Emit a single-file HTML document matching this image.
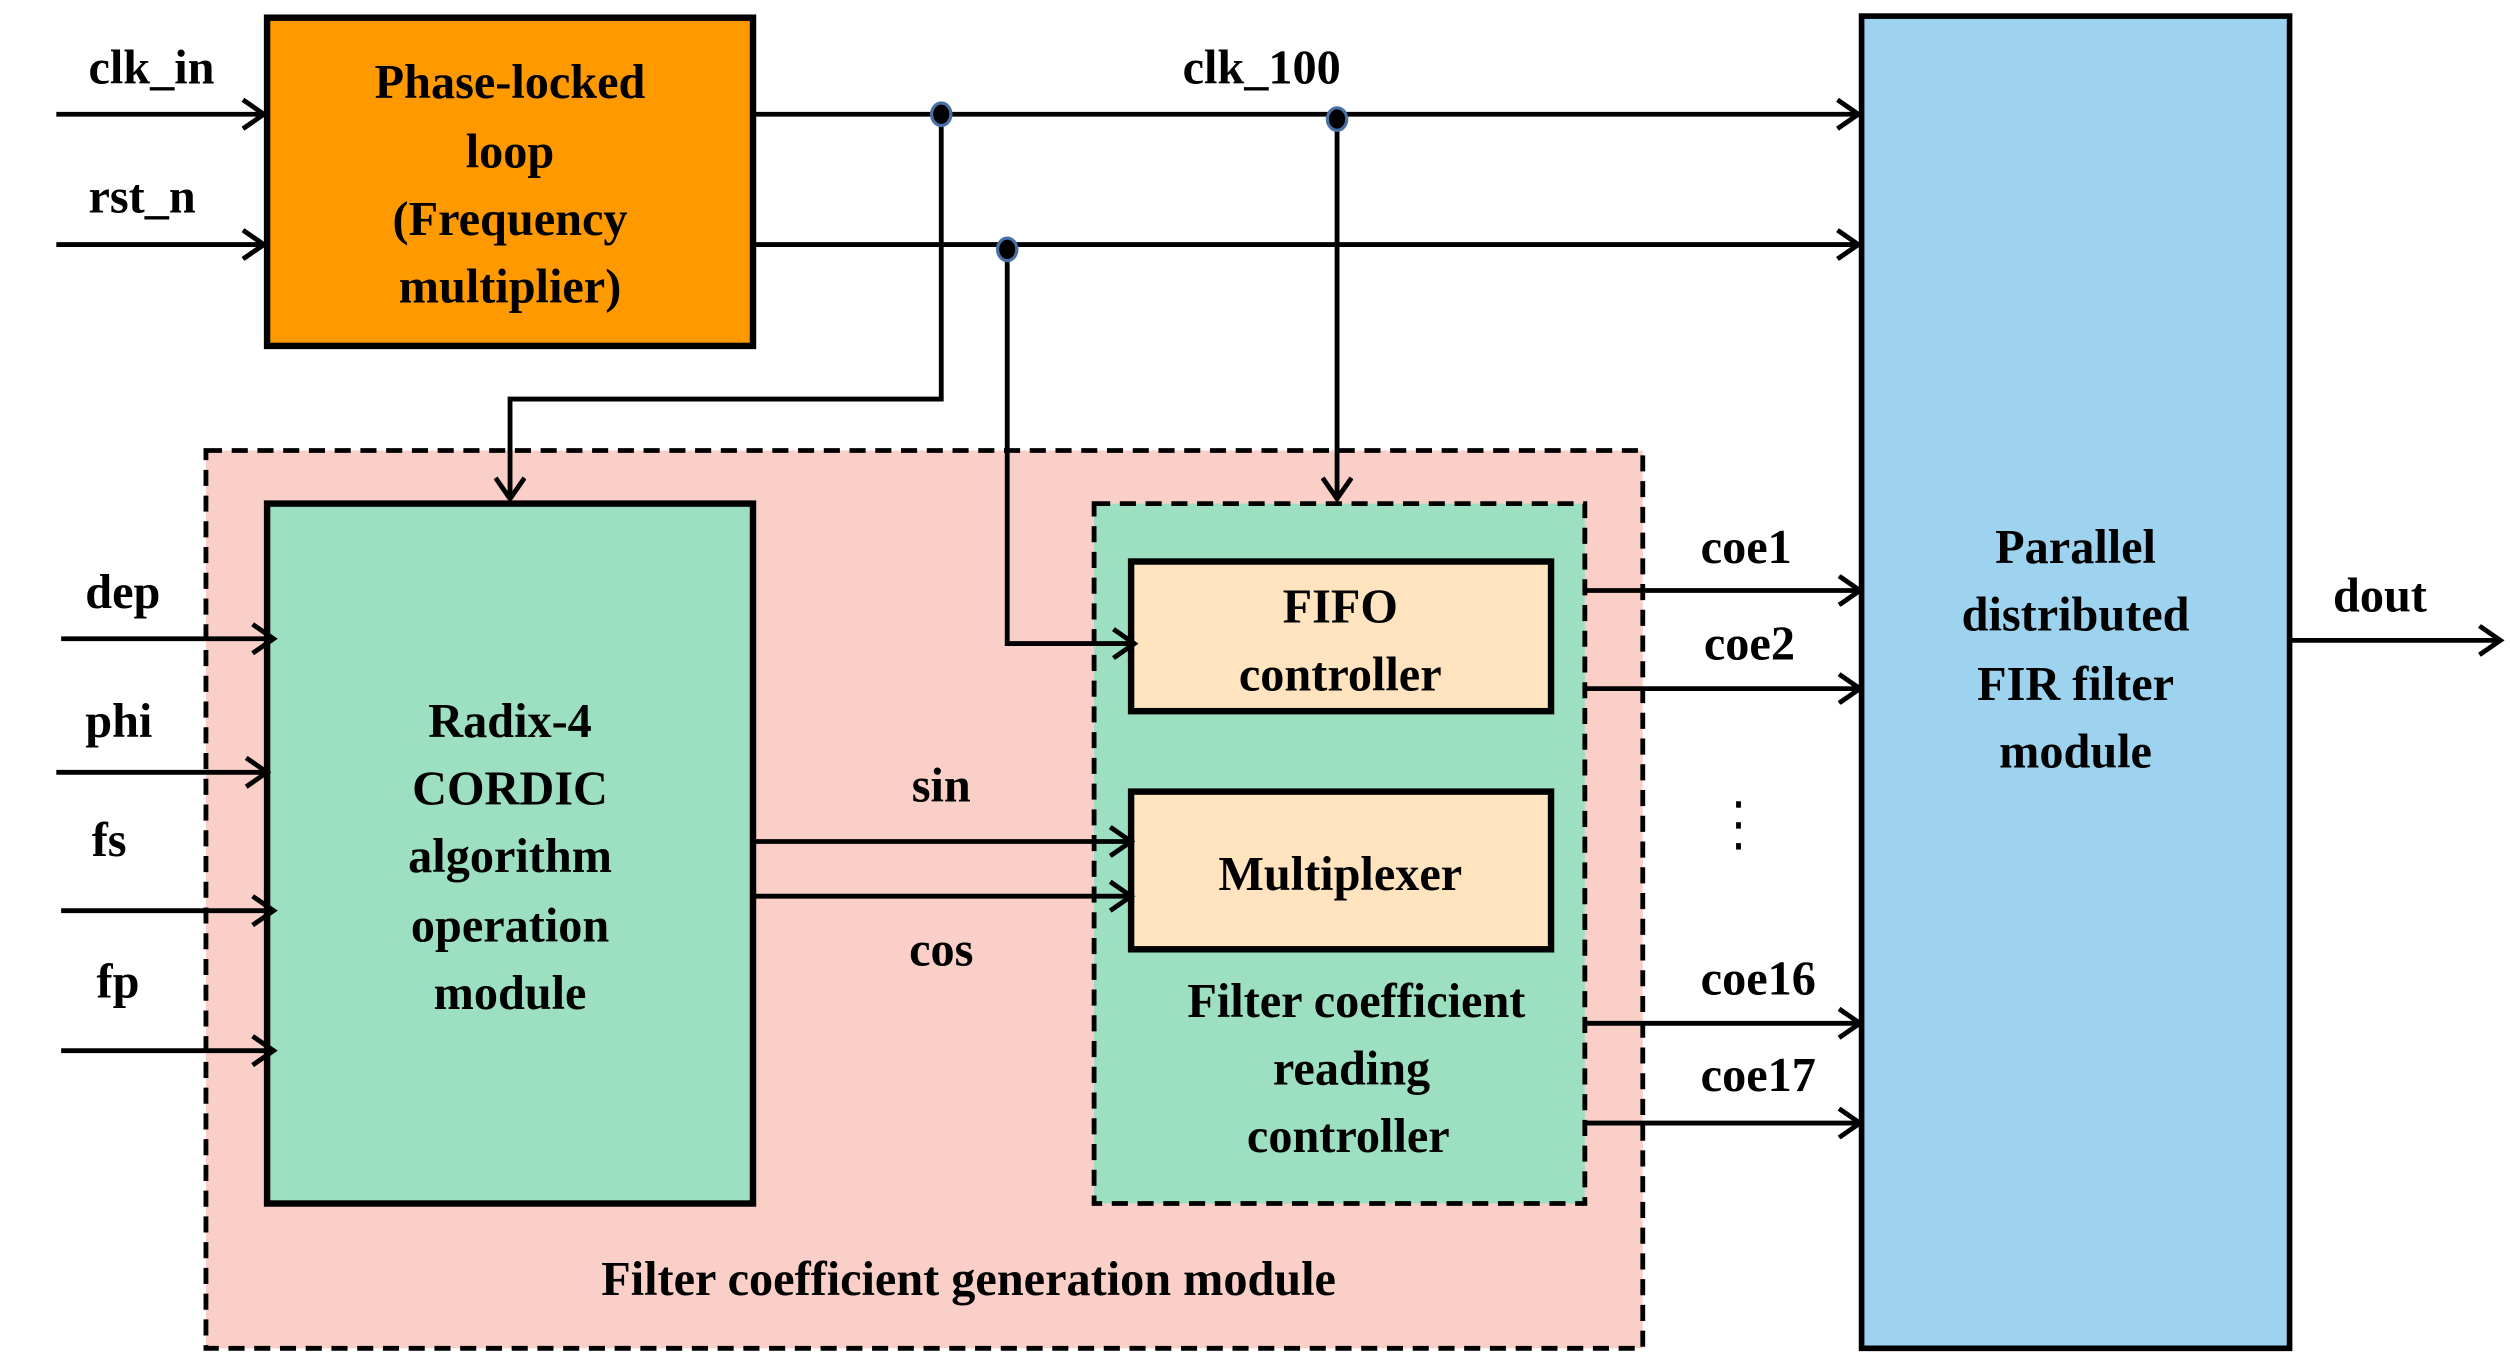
<!DOCTYPE html>
<html><head><meta charset="utf-8"><style>
html,body{margin:0;padding:0;background:#fff;}
svg{display:block;}
svg text{font-family:"Liberation Serif","Times New Roman","DejaVu Serif",serif;font-weight:bold;font-size:30px;fill:#000;}
</style></head><body>
<svg width="2510" height="1362" viewBox="0 0 1560 846.5" preserveAspectRatio="none" xmlns="http://www.w3.org/2000/svg" font-family="Liberation Serif, serif" font-weight="bold" font-size="30">
<defs>
<marker id="a" markerWidth="20" markerHeight="20" refX="17" refY="10" orient="auto" markerUnits="userSpaceOnUse">
<path d="M4,1 L17,10 L4,19" fill="none" stroke="#000" stroke-width="3"/>
</marker>
</defs>
<rect x="128" y="280" width="893" height="558" fill="#F9CFC7" stroke="#000" stroke-width="3" stroke-dasharray="10,6"/>
<rect x="1157" y="10" width="266" height="828" fill="#9DD3EE" stroke="#000" stroke-width="3.5"/>
<rect x="166" y="11" width="302" height="204" fill="#FF9900" stroke="#000" stroke-width="4"/>
<rect x="166" y="313" width="302" height="435" fill="#9DDFC1" stroke="#000" stroke-width="4"/>
<rect x="680" y="313" width="305" height="435" fill="#9DDFC1" stroke="#000" stroke-width="3" stroke-dasharray="10,6"/>
<rect x="703" y="349" width="261" height="93" fill="#FFE4BF" stroke="#000" stroke-width="4"/>
<rect x="703" y="492" width="261" height="98" fill="#FFE4BF" stroke="#000" stroke-width="4"/>

<g stroke="#000" stroke-width="3" fill="none">
<line x1="35" y1="71" x2="164" y2="71" marker-end="url(#a)"/>
<line x1="35" y1="152" x2="164" y2="152" marker-end="url(#a)"/>
<line x1="468" y1="71" x2="1155" y2="71" marker-end="url(#a)"/>
<line x1="468" y1="152" x2="1155" y2="152" marker-end="url(#a)"/>
<polyline points="585,71 585,248 317,248 317,310" marker-end="url(#a)"/>
<polyline points="626,155 626,400 705,400" marker-end="url(#a)"/>
<line x1="831" y1="74" x2="831" y2="310" marker-end="url(#a)"/>
<line x1="38" y1="397" x2="170" y2="397" marker-end="url(#a)"/>
<line x1="35" y1="480" x2="166" y2="480" marker-end="url(#a)"/>
<line x1="38" y1="566" x2="170" y2="566" marker-end="url(#a)"/>
<line x1="38" y1="653" x2="170" y2="653" marker-end="url(#a)"/>
<line x1="468" y1="523" x2="703" y2="523" marker-end="url(#a)"/>
<line x1="468" y1="557" x2="703" y2="557" marker-end="url(#a)"/>
<line x1="985" y1="367" x2="1156" y2="367" marker-end="url(#a)"/>
<line x1="985" y1="428" x2="1156" y2="428" marker-end="url(#a)"/>
<line x1="985" y1="636" x2="1156" y2="636" marker-end="url(#a)"/>
<line x1="985" y1="698" x2="1156" y2="698" marker-end="url(#a)"/>
<line x1="1423" y1="398" x2="1554" y2="398" marker-end="url(#a)"/>
</g>
<g fill="#000" stroke="#4A6FA5" stroke-width="2">
<ellipse cx="585" cy="71" rx="6" ry="7"/>
<ellipse cx="831" cy="74" rx="6" ry="7"/>
<ellipse cx="626" cy="155" rx="6" ry="7"/>
</g>
<g fill="#000">
<rect x="1079" y="498" width="3" height="4"/>
<rect x="1079" y="511" width="3" height="4"/>
<rect x="1079" y="524" width="3" height="4"/>
</g>

<text x="55" y="52">clk_in</text>
<text x="55" y="132">rst_n</text>
<text x="735" y="52">clk_100</text>
<g text-anchor="middle">
<text x="317" y="61">Phase-locked</text>
<text x="317" y="104">loop</text>
<text x="317" y="146">(Frequency</text>
<text x="317" y="188">multiplier)</text>
<text x="317" y="458">Radix-4</text>
<text x="317" y="500">CORDIC</text>
<text x="317" y="542">algorithm</text>
<text x="317" y="585">operation</text>
<text x="317" y="627">module</text>
<text x="833" y="387">FIFO</text>
<text x="833" y="429">controller</text>
<text x="833" y="553">Multiplexer</text>
<text x="843" y="632">Filter coefficient</text>
<text x="840" y="674">reading</text>
<text x="838" y="716">controller</text>
<text x="602" y="805">Filter coefficient generation module</text>
<text x="1290" y="350">Parallel</text>
<text x="1290" y="392">distributed</text>
<text x="1290" y="435">FIR filter</text>
<text x="1290" y="477">module</text>
<text x="585" y="498">sin</text>
<text x="585" y="600">cos</text>
</g>
<text x="53" y="378">dep</text>
<text x="53" y="458">phi</text>
<text x="57" y="532">fs</text>
<text x="60" y="620">fp</text>
<text x="1057" y="350">coe1</text>
<text x="1059" y="410">coe2</text>
<text x="1057" y="618">coe16</text>
<text x="1057" y="678">coe17</text>
<text x="1450" y="380">dout</text>
</svg>
</body></html>
